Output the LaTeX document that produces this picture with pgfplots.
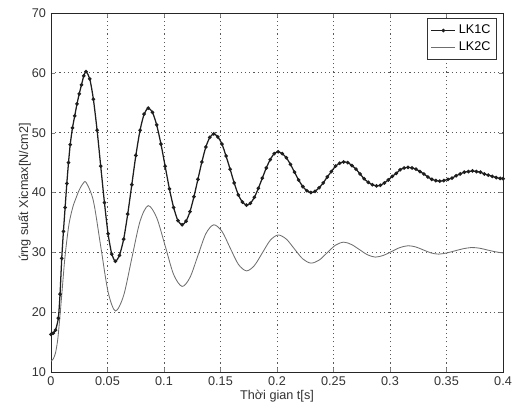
\documentclass[border=0pt]{standalone}
\usepackage{fontspec}
\setmainfont{Liberation Sans}
\usepackage{pgfplots}
\pgfplotsset{compat=1.18}

\definecolor{lkone}{HTML}{1E1E1E}
\definecolor{lktwo}{HTML}{6E6E6E}

\begin{document}
\begin{tikzpicture}
\begin{axis}[
  scale only axis,
  width=11.3cm, height=8.975cm,
  xmin=0, xmax=0.4, ymin=10, ymax=70,
  xtick={0,0.05,0.1,0.15,0.2,0.25,0.3,0.35,0.4},
  xticklabels={0,0.05,0.1,0.15,0.2,0.25,0.3,0.35,0.4},
  ytick={10,20,30,40,50,60,70},
  /pgf/number format/assume math mode=true,
  tick label style={font=\small, text=black!80},
  label style={font=\small, text=black!80},
  xlabel={Thời gian t[s]},
  ylabel={ứng suất Xicmax[N/cm2]},
  xlabel style={yshift=3.5pt},
  ylabel style={yshift=-6pt},
  tick align=inside,
  major tick length=3pt,
  axis line style={black!85, line width=0.6pt},
  grid=major,
  major grid style={black!65, line width=0.5pt, dash pattern=on 0.8pt off 2.2pt},
  legend cell align=left,
  legend style={at={(0.987,0.985)}, anchor=north east, font=\small,
    draw=black!80, line width=0.5pt, inner sep=2.5pt, row sep=0pt},
]
\addplot[lkone, line width=0.9pt, mark=*, mark size=0.8pt, smooth, tension=0.4] coordinates {
(0,16.3)(0.002,16.5)(0.004,17.0)(0.0065,19.0)(0.008,23.0)(0.0095,29.0)(0.011,33.5)
(0.0125,37.5)(0.014,41.5)(0.0155,45.0)(0.017,48.0)(0.019,50.8)(0.021,52.8)(0.023,54.8)
(0.025,56.5)(0.027,58.0)(0.029,59.5)(0.031,60.2)
(0.0343,59.0)(0.0375,55.6)(0.0408,50.4)(0.044,44.4)(0.0473,38.3)(0.0505,33.1)(0.0538,29.7)
(0.057,28.5)
(0.0606,29.5)(0.0643,32.2)(0.0679,36.4)(0.0715,41.3)(0.0751,46.2)(0.0788,50.4)(0.0824,53.1)
(0.086,54.1)
(0.0898,53.4)(0.0935,51.3)(0.0973,48.1)(0.101,44.4)(0.1048,40.6)(0.1085,37.5)(0.1123,35.3)
(0.116,34.6)
(0.1195,35.2)(0.123,36.8)(0.1265,39.3)(0.13,42.2)(0.1335,45.1)(0.137,47.6)(0.1405,49.2)
(0.144,49.8)
(0.1476,49.3)(0.1513,48.1)(0.1549,46.1)(0.1585,43.9)(0.1621,41.6)(0.1658,39.6)(0.1694,38.4)
(0.173,37.9)
(0.1765,38.2)(0.18,39.2)(0.1835,40.7)(0.187,42.4)(0.1905,44.1)(0.194,45.5)(0.1975,46.5)
(0.201,46.8)
(0.2046,46.5)(0.2083,45.8)(0.2119,44.7)(0.2155,43.4)(0.2191,42.1)(0.2228,41.0)(0.2264,40.3)
(0.230,40.0)
(0.2336,40.2)(0.2373,40.8)(0.2409,41.6)(0.2445,42.6)(0.2481,43.5)(0.2518,44.4)(0.2554,44.9)
(0.259,45.1)
(0.2626,45.0)(0.2663,44.5)(0.2699,43.9)(0.2735,43.1)(0.2771,42.3)(0.2808,41.7)(0.2844,41.3)
(0.288,41.1)
(0.2915,41.2)(0.295,41.6)(0.2985,42.1)(0.302,42.7)(0.3055,43.2)(0.309,43.8)(0.3125,44.1)
(0.316,44.2)
(0.3195,44.1)(0.323,43.9)(0.3265,43.5)(0.33,43.1)(0.3335,42.6)(0.337,42.2)(0.3405,42.0)
(0.344,41.9)
(0.3476,42.0)(0.3513,42.2)(0.3549,42.4)(0.3585,42.8)(0.3621,43.1)(0.3658,43.4)(0.3694,43.5)
(0.373,43.6)
(0.3765,43.5)(0.38,43.4)(0.3835,43.1)(0.387,42.9)(0.3905,42.7)(0.394,42.5)(0.3975,42.35)
(0.4,42.3)
};
\addlegendentry{LK1C}
\addplot[lktwo, line width=0.6pt, smooth, tension=0.5] coordinates {
(0,11.8)(0.002,12.2)(0.004,13.2)(0.006,15.5)(0.008,19.5)(0.010,24.0)(0.012,28.5)
(0.014,32.0)(0.016,34.8)(0.018,36.6)(0.020,38.0)(0.022,39.0)(0.024,40.0)(0.026,40.8)
(0.028,41.4)(0.031,41.7)
(0.0375,38.6)(0.044,31.0)(0.0505,23.4)(0.057,20.2)
(0.0643,22.8)(0.0715,29.0)(0.0788,35.2)(0.086,37.8)
(0.0935,35.8)(0.101,31.1)(0.1085,26.3)(0.116,24.3)
(0.123,25.8)(0.13,29.45)(0.137,33.1)(0.144,34.6)
(0.1513,33.5)(0.1585,30.75)(0.1658,28.0)(0.173,26.9)
(0.18,27.8)(0.187,29.9)(0.194,32.0)(0.201,32.9)
(0.2083,32.2)(0.2155,30.55)(0.2228,28.9)(0.230,28.2)
(0.2373,28.7)(0.2445,29.95)(0.2518,31.2)(0.259,31.7)
(0.266,31.3)(0.273,30.45)(0.280,29.6)(0.287,29.2)
(0.2943,29.5)(0.3015,30.15)(0.3088,30.8)(0.316,31.1)
(0.3228,30.9)(0.3295,30.4)(0.3363,29.9)(0.343,29.7)
(0.3503,29.9)(0.3575,30.25)(0.3648,30.6)(0.372,30.8)
(0.379,30.7)(0.386,30.4)(0.393,30.1)(0.4,29.9)
};
\addlegendentry{LK2C}
\end{axis}
\path ([shift={(-1.275cm,-1.05cm)}]current axis.south west)
  rectangle ([shift={(0.4cm,0.325cm)}]current axis.north east);
\end{tikzpicture}
\end{document}
